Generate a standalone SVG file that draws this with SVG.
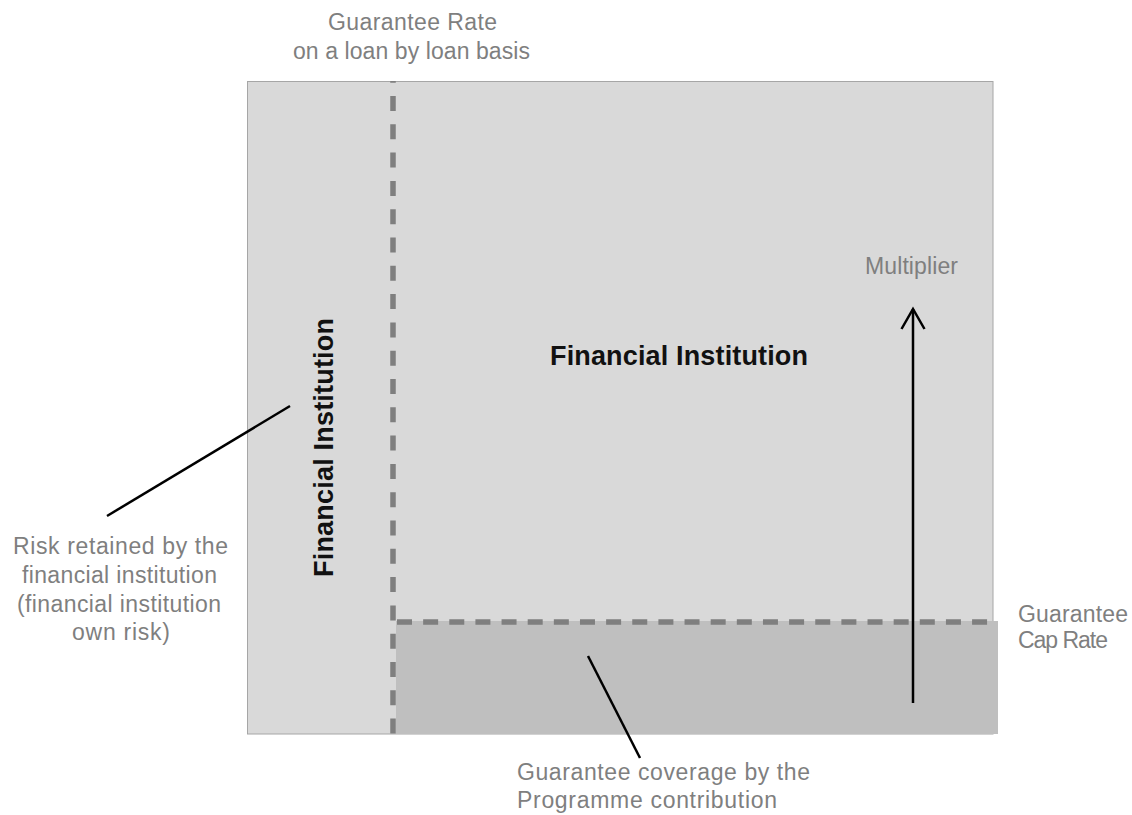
<svg xmlns="http://www.w3.org/2000/svg" width="1132" height="815" viewBox="0 0 1132 815">
<defs>
<style>
.lbl{font-family:"Liberation Sans",Arial,sans-serif;font-size:23px;fill:#7f7f7f}
.bold{font-family:"Liberation Sans",Arial,sans-serif;font-size:27px;font-weight:bold;fill:#111}
.dash{stroke:#7f7f7f;stroke-width:5.5;fill:none}
.lead{stroke:#000;stroke-width:2.5;fill:none}
</style>
</defs>
<rect width="1132" height="815" fill="#fff"/>
<g id="outer-area">
<rect x="247.5" y="81.5" width="745.5" height="652.5" fill="#d9d9d9" stroke="#a6a6a6" stroke-width="1"/>
</g>
<g id="guarantee-area">
<rect x="396" y="621" width="602" height="113" fill="#bfbfbf"/>
</g>
<g id="dividers">
<line class="dash" x1="393" y1="81" x2="393" y2="734" stroke-dasharray="15 13.3" stroke-dashoffset="13.3"/>
<line class="dash" x1="397" y1="622" x2="998" y2="622" stroke-dasharray="15 11.14"/>
</g>
<g id="label-fi-main">
<text class="bold" x="679" y="365" text-anchor="middle" textLength="258">Financial Institution</text>
</g>
<g id="label-fi-vertical">
<text class="bold" transform="translate(333 447.5) rotate(-90)" x="0" y="0" text-anchor="middle" textLength="259">Financial Institution</text>
</g>
<g id="label-guarantee-rate">
<text class="lbl" x="412.5" y="30" text-anchor="middle" textLength="169">Guarantee Rate</text>
<text class="lbl" x="411.5" y="59" text-anchor="middle" textLength="237">on a loan by loan basis</text>
</g>
<g id="label-multiplier">
<text class="lbl" x="911.5" y="274" text-anchor="middle" textLength="93">Multiplier</text>
</g>
<g id="label-cap-rate">
<text class="lbl" x="1018" y="622" textLength="110">Guarantee</text>
<text class="lbl" x="1018" y="648" textLength="90">Cap Rate</text>
</g>
<g id="label-risk">
<text class="lbl" x="120.5" y="554" text-anchor="middle" textLength="215">Risk retained by the</text>
<text class="lbl" x="119.5" y="583" text-anchor="middle" textLength="195">financial institution</text>
<text class="lbl" x="119" y="612" text-anchor="middle" textLength="204">(financial institution</text>
<text class="lbl" x="121" y="640" text-anchor="middle" textLength="98">own risk)</text>
</g>
<g id="label-coverage">
<text class="lbl" x="517" y="780" textLength="293">Guarantee coverage by the</text>
<text class="lbl" x="517" y="808" textLength="260">Programme contribution</text>
</g>
<g id="connectors">
<line class="lead" x1="913" y1="703" x2="913" y2="309"/>
<polyline class="lead" points="901.5,329 913,309 924.5,329"/>
<line class="lead" x1="290" y1="406" x2="107" y2="516"/>
<line class="lead" x1="588" y1="656" x2="640" y2="758"/>
</g>
</svg>
